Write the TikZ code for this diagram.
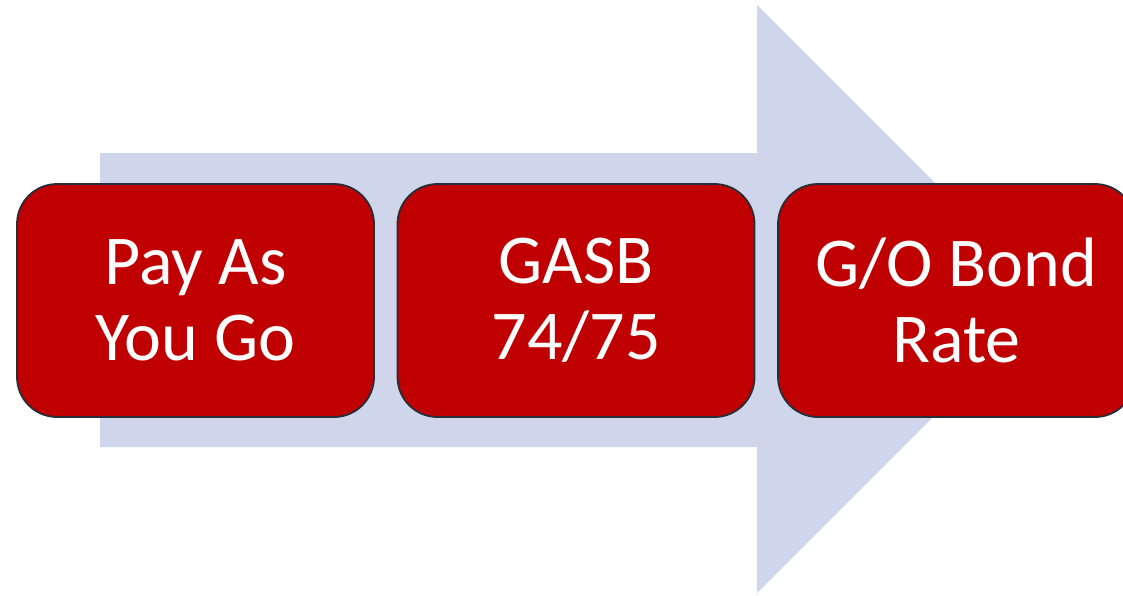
\documentclass[tikz,border=0pt]{standalone}
\usepackage{fontspec}
\setmainfont{Carlito}
\definecolor{boxred}{RGB}{192,0,0}
\definecolor{boxline}{RGB}{40,46,56}
\definecolor{arrowfill}{RGB}{207,213,234}
\begin{document}
\begin{tikzpicture}[x=1pt,y=-1pt,
  stepbox/.style={draw=boxline, line width=1.8pt, fill=boxred, rounded corners=40pt,
    minimum width=357pt, minimum height=233pt, inner sep=0pt, text=white, align=center,
    font=\fontsize{70}{76}\selectfont}]
\useasboundingbox (0,0) rectangle (1123,595);
\clip (0,0) rectangle (1123,595);
\fill[arrowfill] (100,153) -- (757,153) -- (757,5) -- (1051,299) -- (757,593) -- (757,447) -- (100,447) -- cycle;
\node[stepbox] (a) at (195.5,300.5) {Pay As\\You Go};
\node[stepbox] (b) at (576,300.5) {GASB\\74/75};
\node[stepbox] (c) at (956.5,300.5) {G/O Bond\\Rate};
\end{tikzpicture}
\end{document}
